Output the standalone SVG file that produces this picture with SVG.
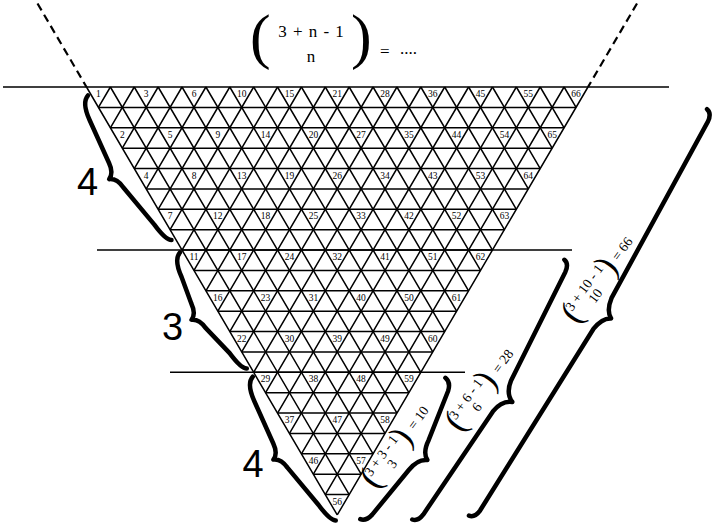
<svg xmlns="http://www.w3.org/2000/svg" width="713" height="526" viewBox="0 0 713 526">
<style>
.grid{fill:none;stroke:#000;stroke-width:1.5}
.rule{fill:none;stroke:#000;stroke-width:1.5}
.dash{fill:none;stroke:#000;stroke-width:2.2;stroke-dasharray:8 5}
.brace{fill:none;stroke:#000;stroke-width:4.5;stroke-linecap:round;stroke-linejoin:round}
.lb{font-family:'Liberation Serif',serif;font-size:9.5px;text-anchor:middle;fill:#000}
.big{font-family:'Liberation Sans',sans-serif;font-size:38px;text-anchor:middle;fill:#000}
.ft{font-family:'Liberation Serif',serif;font-size:11px;fill:#000}
.fp{font-family:'Liberation Serif',serif;font-size:28px;fill:#000}
.tt{font-family:'Liberation Serif',serif;font-size:17px;fill:#000}
.tp{font-family:'Liberation Serif',serif;font-size:62px;fill:#000}
#labels{opacity:0.99}
</style>
<rect width="713" height="526" fill="#fff"/>
<g id="connectors">
<path class="rule" d="M3,87H669M97,250H572M170,372.3H465"/>
<path class="dash" d="M37.5,3.5L86.5,87M637,3.5L588,87"/>
</g>
<g id="grid">
<path class="grid" d="M98.44,107.38H576.06M110.38,127.76H564.12M122.32,148.14H552.18M134.26,168.52H540.24M146.2,188.9H528.3M158.14,209.28H516.36M170.08,229.66H504.42M182.02,250.04H492.48M193.96,270.42H480.54M205.9,290.8H468.6M217.84,311.18H456.66M229.78,331.56H444.72M241.72,351.94H432.78M253.66,372.32H420.84M265.6,392.7H408.9M277.54,413.08H396.96M289.48,433.46H385.02M301.42,453.84H373.08M313.36,474.22H361.14M325.3,494.6H349.2"/>
<path class="grid" d="M86.5,87L337.24,514.98M110.38,87L349.2,494.6M134.26,87L361.14,474.22M158.14,87L373.08,453.84M182.02,87L385.02,433.46M205.9,87L396.96,413.08M229.78,87L408.9,392.7M253.66,87L420.84,372.32M277.54,87L432.78,351.94M301.42,87L444.72,331.56M325.3,87L456.66,311.18M349.18,87L468.6,290.8M373.06,87L480.54,270.42M396.94,87L492.48,250.04M420.82,87L504.42,229.66M444.7,87L516.36,209.28M468.58,87L528.3,188.9M492.46,87L540.24,168.52M516.34,87L552.18,148.14M540.22,87L564.12,127.76M564.1,87L576.06,107.38"/>
<path class="grid" d="M110.38,87L98.44,107.38M134.26,87L110.38,127.76M158.14,87L122.32,148.14M182.02,87L134.26,168.52M205.9,87L146.2,188.9M229.78,87L158.14,209.28M253.66,87L170.08,229.66M277.54,87L182.02,250.04M301.42,87L193.96,270.42M325.3,87L205.9,290.8M349.18,87L217.84,311.18M373.06,87L229.78,331.56M396.94,87L241.72,351.94M420.82,87L253.66,372.32M444.7,87L265.6,392.7M468.58,87L277.54,413.08M492.46,87L289.48,433.46M516.34,87L301.42,453.84M540.22,87L313.36,474.22M564.1,87L325.3,494.6M587.98,87L337.24,514.98"/>
</g>
<g id="labels">
<text class="lb" x="98.4" y="97">1</text><text class="lb" x="146.2" y="97">3</text><text class="lb" x="194" y="97">6</text><text class="lb" x="241.7" y="97">10</text><text class="lb" x="289.5" y="97">15</text><text class="lb" x="337.2" y="97">21</text><text class="lb" x="385" y="97">28</text><text class="lb" x="432.8" y="97">36</text><text class="lb" x="480.5" y="97">45</text><text class="lb" x="528.3" y="97">55</text><text class="lb" x="576" y="97">66</text>
<text class="lb" x="122.3" y="137.8">2</text><text class="lb" x="170.1" y="137.8">5</text><text class="lb" x="217.8" y="137.8">9</text><text class="lb" x="265.6" y="137.8">14</text><text class="lb" x="313.4" y="137.8">20</text><text class="lb" x="361.1" y="137.8">27</text><text class="lb" x="408.9" y="137.8">35</text><text class="lb" x="456.6" y="137.8">44</text><text class="lb" x="504.4" y="137.8">54</text><text class="lb" x="552.2" y="137.8">65</text>
<text class="lb" x="146.2" y="178.5">4</text><text class="lb" x="194" y="178.5">8</text><text class="lb" x="241.7" y="178.5">13</text><text class="lb" x="289.5" y="178.5">19</text><text class="lb" x="337.2" y="178.5">26</text><text class="lb" x="385" y="178.5">34</text><text class="lb" x="432.8" y="178.5">43</text><text class="lb" x="480.5" y="178.5">53</text><text class="lb" x="528.3" y="178.5">64</text>
<text class="lb" x="170.1" y="219.3">7</text><text class="lb" x="217.8" y="219.3">12</text><text class="lb" x="265.6" y="219.3">18</text><text class="lb" x="313.4" y="219.3">25</text><text class="lb" x="361.1" y="219.3">33</text><text class="lb" x="408.9" y="219.3">42</text><text class="lb" x="456.6" y="219.3">52</text><text class="lb" x="504.4" y="219.3">63</text>
<text class="lb" x="194" y="260">11</text><text class="lb" x="241.7" y="260">17</text><text class="lb" x="289.5" y="260">24</text><text class="lb" x="337.2" y="260">32</text><text class="lb" x="385" y="260">41</text><text class="lb" x="432.8" y="260">51</text><text class="lb" x="480.5" y="260">62</text>
<text class="lb" x="217.8" y="300.8">16</text><text class="lb" x="265.6" y="300.8">23</text><text class="lb" x="313.4" y="300.8">31</text><text class="lb" x="361.1" y="300.8">40</text><text class="lb" x="408.9" y="300.8">50</text><text class="lb" x="456.6" y="300.8">61</text>
<text class="lb" x="241.7" y="341.6">22</text><text class="lb" x="289.5" y="341.6">30</text><text class="lb" x="337.2" y="341.6">39</text><text class="lb" x="385" y="341.6">49</text><text class="lb" x="432.8" y="341.6">60</text>
<text class="lb" x="265.6" y="382.3">29</text><text class="lb" x="313.4" y="382.3">38</text><text class="lb" x="361.1" y="382.3">48</text><text class="lb" x="408.9" y="382.3">59</text>
<text class="lb" x="289.5" y="423.1">37</text><text class="lb" x="337.2" y="423.1">47</text><text class="lb" x="385" y="423.1">58</text>
<text class="lb" x="313.4" y="463.8">46</text><text class="lb" x="361.1" y="463.8">57</text>
<text class="lb" x="337.2" y="504.6">56</text>
</g>
<g id="title">
<text class="tp" x="250" y="57">(</text>
<text class="tt" x="311" y="37" text-anchor="middle" word-spacing="2">3 + n - 1</text>
<text class="tt" x="311" y="62" text-anchor="middle">n</text>
<text class="tp" x="351" y="57">)</text>
<text class="tt" x="380" y="57">=</text>
<text class="tt" x="400" y="54">....</text>
</g>
<g id="left-braces" transform="translate(86.5,87) rotate(59.64)">
<g id="brace-l1"><path class="brace" transform="translate(8,0)" d="M0,3 Q3,12 22,14 L69,19 Q80,20 83,27 Q86,20 97,19 L145,11 Q164,9 167,4"/></g>
<g id="brace-l2"><path class="brace" transform="translate(190,0)" d="M0,3 Q3,12 22,14 L50,19 Q61,20 64,27 Q67,20 78,19 L112,11 Q131,9 134,4"/></g>
<g id="brace-l3"><path class="brace" transform="translate(334,0)" d="M0,3 Q3,12 22,14 L68,19 Q79,20 82,27 Q85,20 96,19 L144,11 Q163,9 166,4"/></g>
</g>
<g id="count-1"><text class="big" x="87.5" y="195">4</text></g>
<g id="count-2"><text class="big" x="172.5" y="340">3</text></g>
<g id="count-3"><text class="big" x="253" y="477">4</text></g>
<g id="right-braces" transform="translate(337.24,514.98) rotate(-59.64)">
<g id="brace-r1">
<path class="brace" transform="translate(8,27)" d="M0,-5 Q1,1 10,3 L67,12 Q81,14 85,23 Q89,15 103,14 L155,6 Q164,4 165,-3"/>
<g transform="translate(47.8,12.3) rotate(6) scale(1.25)">
<text class="fp" x="-4.7" y="7.2">(</text>
<text class="ft" x="20" y="-2" text-anchor="middle">3 + 3 - 1</text>
<text class="ft" x="20" y="9" text-anchor="middle">3</text>
<text class="fp" x="37.3" y="7.2">)</text>
<text class="ft" x="52" y="4">= 10</text>
</g>
</g>
<g id="brace-r2">
<path class="brace" transform="translate(34,72)" d="M0,-5 Q1,1 10,2 L134,10 Q148,12 152,22 Q156,12 170,10 L291,2 Q300,1 301,-5"/>
<g transform="translate(139.5,56.7) rotate(6) scale(1.25)">
<text class="fp" x="-4.7" y="7.2">(</text>
<text class="ft" x="20" y="-2" text-anchor="middle">3 + 6 - 1</text>
<text class="ft" x="20" y="9" text-anchor="middle">6</text>
<text class="fp" x="37.3" y="7.2">)</text>
<text class="ft" x="52" y="4">= 28</text>
</g>
</g>
<g id="brace-r3">
<path class="brace" transform="translate(66,119)" d="M0,-5 Q1,1 10,2 L224,8 Q238,10 242,18 Q246,10 260,8 L461,2 Q470,1 471,-5"/>
<g transform="translate(291.7,102.3) rotate(6) scale(1.25)">
<text class="fp" x="-4.7" y="7.2">(</text>
<text class="ft" x="23" y="-2" text-anchor="middle">3 + 10 - 1</text>
<text class="ft" x="23" y="9" text-anchor="middle">10</text>
<text class="fp" x="43" y="7.2">)</text>
<text class="ft" x="56" y="4">= 66</text>
</g>
</g>
</g>
</svg>
